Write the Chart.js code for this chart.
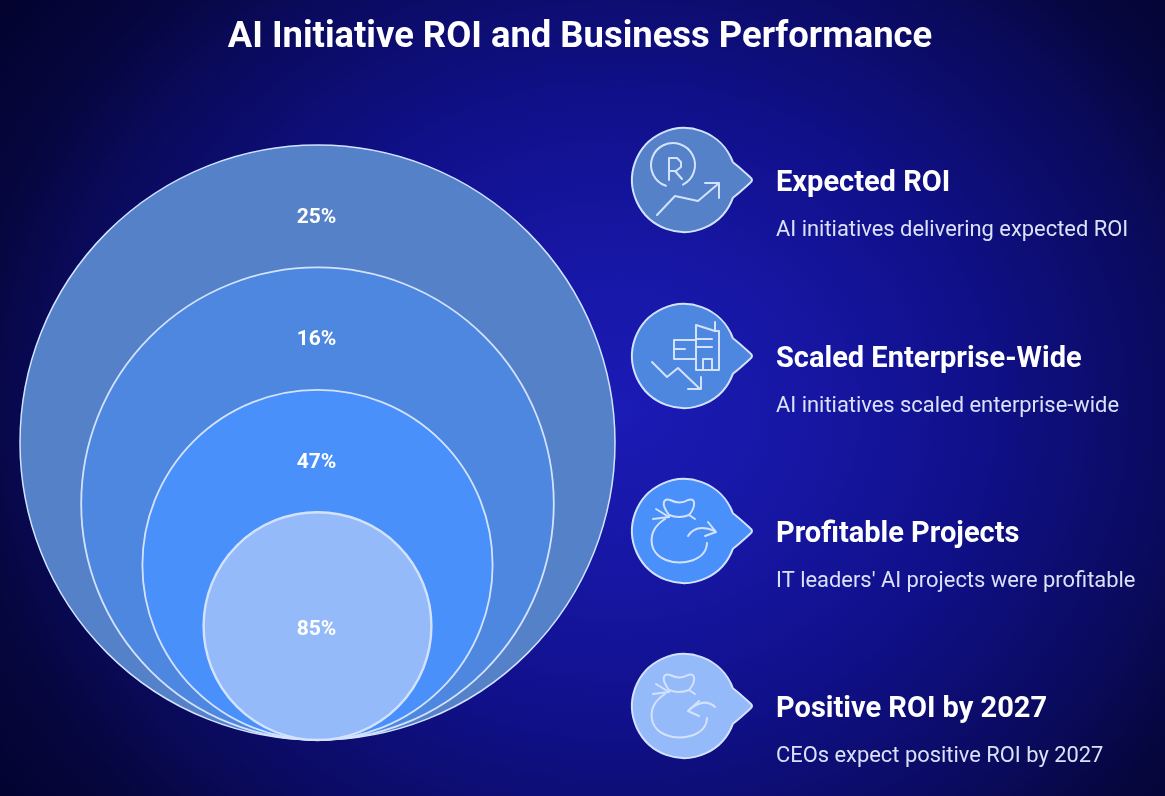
<!DOCTYPE html>
<html lang="en">
<head>
    <meta charset="UTF-8">
    <title>AI Initiative ROI and Business Performance</title>
    <script src="https://cdn.jsdelivr.net/npm/chart.js"></script>
    <style>
        html, body { margin: 0; height: 100%; overflow: hidden; }
        body {
            background: radial-gradient(ellipse 800px 700px at 620px 410px,
                #1b1bb6 0%, #1616a2 25%, #10108a 45%, #0a0a5c 70%, #06063f 82%, #02022a 100%) #02022a;
        }
        canvas { display: block; }
    </style>
</head>
<body>
    <canvas id="roiChart" width="1165" height="796"></canvas>

    <script>
        // Data
        const chartTitle = 'AI Initiative ROI and Business Performance';
        const categories = ['Expected ROI', 'Scaled Enterprise-Wide', 'Profitable Projects', 'Positive ROI by 2027'];
        const descriptions = [
            'AI initiatives delivering expected ROI',
            'AI initiatives scaled enterprise-wide',
            "IT leaders' AI projects were profitable",
            'CEOs expect positive ROI by 2027'
        ];
        const percentValues = [25, 16, 47, 85];

        // Styles
        const fills = ['#5581c9', '#4e87e0', '#4a90fa', '#95bafa'];
        const lineColor = '#d3e3ff';

        // Layout, in page pixels
        const ringX = 317.5, ringBottom = 740, ringOuter = 297.5, ringStep = 61.2;
        const labelDrop = 72.5;
        const markerX = 684, markerR = 52, markerRows = [180, 356, 531, 706];
        const textX = 776;

        const ringRadius = i => ringOuter - i * ringStep;

        // Little line drawings inside the markers, relative to marker centre
        function line(ctx, pts) {
            ctx.beginPath();
            pts.forEach((p, i) => i ? ctx.lineTo(p[0], p[1]) : ctx.moveTo(p[0], p[1]));
            ctx.stroke();
        }

        function iconRoi(ctx) {
            ctx.beginPath();
            ctx.arc(-11, -15, 22, 1.9, 1.15 + Math.PI * 2 - 0.05);
            ctx.stroke();
            line(ctx, [[-15, 0], [-15, -22], [-7, -22], [-3, -18], [-3, -13], [-8, -9], [-15, -9]]);
            line(ctx, [[-9, -9], [-2, -1]]);
            line(ctx, [[-27, 35], [-9, 16], [14, 21], [34, 4]]);
            line(ctx, [[21, 3], [35, 3], [35, 18]]);
        }

        function iconBuilding(ctx) {
            line(ctx, [[12, 14], [12, -31], [31, -25], [35, -25], [35, 14], [12, 14]]);
            line(ctx, [[31, -34], [31, -25]]);
            line(ctx, [[12, -17], [28, -17]]);
            line(ctx, [[12, -9], [28, -9]]);
            line(ctx, [[19, 14], [19, 3], [28, 3], [28, 14]]);
            line(ctx, [[12, -16], [-10, -16], [-10, 3], [12, 3]]);
            line(ctx, [[-10, -7], [1, -7]]);
            line(ctx, [[-32, 6], [-17, 21], [-6, 12], [16, 33]]);
            line(ctx, [[4, 33], [17, 33], [17, 21]]);
        }

        function bag(ctx) {
            // knot
            ctx.beginPath();
            ctx.moveTo(-15, -16);
            ctx.bezierCurveTo(-24, -28, -20, -33, -14, -31);
            ctx.quadraticCurveTo(-4, -26, 4, -31);
            ctx.bezierCurveTo(12, -34, 12, -24, 5, -16);
            ctx.quadraticCurveTo(-5, -12, -15, -16);
            ctx.stroke();
            line(ctx, [[-28, -22], [-15, -14]]);
            line(ctx, [[-31, -12], [-15, -14]]);
            line(ctx, [[5, -16], [11, -12]]);
            // body
            ctx.beginPath();
            ctx.moveTo(-19, -12);
            ctx.bezierCurveTo(-38, 0, -36, 22, -18, 29);
            ctx.bezierCurveTo(-2, 35, 22, 30, 23, 12);
            ctx.stroke();
        }

        function iconBagRight(ctx) {
            bag(ctx);
            ctx.beginPath();
            ctx.moveTo(4, 5);
            ctx.quadraticCurveTo(12, -8, 31, 0);
            ctx.stroke();
            line(ctx, [[24, -9], [32, 1], [21, 5]]);
        }

        function iconBagLeft(ctx) {
            bag(ctx);
            ctx.beginPath();
            ctx.moveTo(31, 1);
            ctx.quadraticCurveTo(20, -9, 5, 4);
            ctx.stroke();
            line(ctx, [[15, -5], [4, 5], [15, 10]]);
        }

        const icons = [iconRoi, iconBuilding, iconBagRight, iconBagLeft];

        // Marker image: circle with a point on its right side, plus its icon
        function markerImage(i) {
            const size = 160;
            const c = document.createElement('canvas');
            c.width = size;
            c.height = size;
            const ctx = c.getContext('2d');
            ctx.translate(size / 2, size / 2);
            const a = 20 * Math.PI / 180;
            ctx.beginPath();
            ctx.arc(0, 0, markerR, a, Math.PI * 2 - a);
            ctx.quadraticCurveTo(54, -14, 66, -3);
            ctx.quadraticCurveTo(70, 0, 66, 3);
            ctx.quadraticCurveTo(54, 14, markerR * Math.cos(a), markerR * Math.sin(a));
            ctx.closePath();
            ctx.fillStyle = fills[i];
            ctx.fill();
            ctx.strokeStyle = lineColor;
            ctx.lineWidth = 2;
            ctx.stroke();
            ctx.lineJoin = 'round';
            ctx.lineCap = 'round';
            icons[i](ctx);
            return c;
        }

        // Text that sits on the chart: title, percentages, marker captions
        const textPlugin = {
            id: 'textPlugin',
            afterDatasetsDraw(chart) {
                const ctx = chart.ctx;
                const rings = chart.getDatasetMeta(0).data;
                const markers = chart.getDatasetMeta(1).data;
                ctx.save();
                ctx.textBaseline = 'middle';

                ctx.fillStyle = '#ffffff';
                ctx.textAlign = 'center';
                ctx.font = 'bold 36.4px Roboto';
                ctx.fillText(chartTitle, 580, 38);

                ctx.font = 'bold 21px Roboto';
                percentValues.forEach((v, i) => {
                    const pt = rings[i];
                    const r = ringRadius(i);
                    const y = i === percentValues.length - 1 ? pt.y + 3.5 : pt.y - r + labelDrop;
                    ctx.fillText(v + '%', pt.x - 1, y);
                });

                ctx.textAlign = 'left';
                categories.forEach((name, i) => {
                    const y = markers[i].y;
                    ctx.fillStyle = '#ffffff';
                    ctx.font = 'bold 29px Roboto';
                    ctx.fillText(name, textX, y + 4);
                    ctx.fillStyle = '#dbe2f8';
                    ctx.font = '21.9px Roboto';
                    ctx.fillText(descriptions[i], textX, y + 51);
                });
                ctx.restore();
            }
        };

        const images = categories.map((_, i) => markerImage(i));

        new Chart(document.getElementById('roiChart'), {
            type: 'bubble',
            data: {
                datasets: [{
                    label: 'Rings',
                    data: percentValues.map((v, i) => ({ x: ringX, y: ringBottom - ringRadius(i), r: ringRadius(i), value: v })),
                    backgroundColor: fills,
                    borderColor: lineColor,
                    borderWidth: [1.5, 1.8, 1.8, 2.4],
                    clip: false
                }, {
                    label: 'Markers',
                    data: categories.map((name, i) => ({ x: markerX, y: markerRows[i], r: markerR })),
                    pointStyle: images,
                    clip: false
                }]
            },
            plugins: [textPlugin],
            options: {
                responsive: false,
                animation: false,
                events: [],
                layout: { padding: 0, autoPadding: false },
                plugins: {
                    legend: { display: false },
                    tooltip: { enabled: false }
                },
                scales: {
                    x: { type: 'linear', display: false, min: 0, max: 1165 },
                    y: { type: 'linear', display: false, min: 0, max: 796, reverse: true }
                }
            }
        });
    </script>
</body>
</html>
